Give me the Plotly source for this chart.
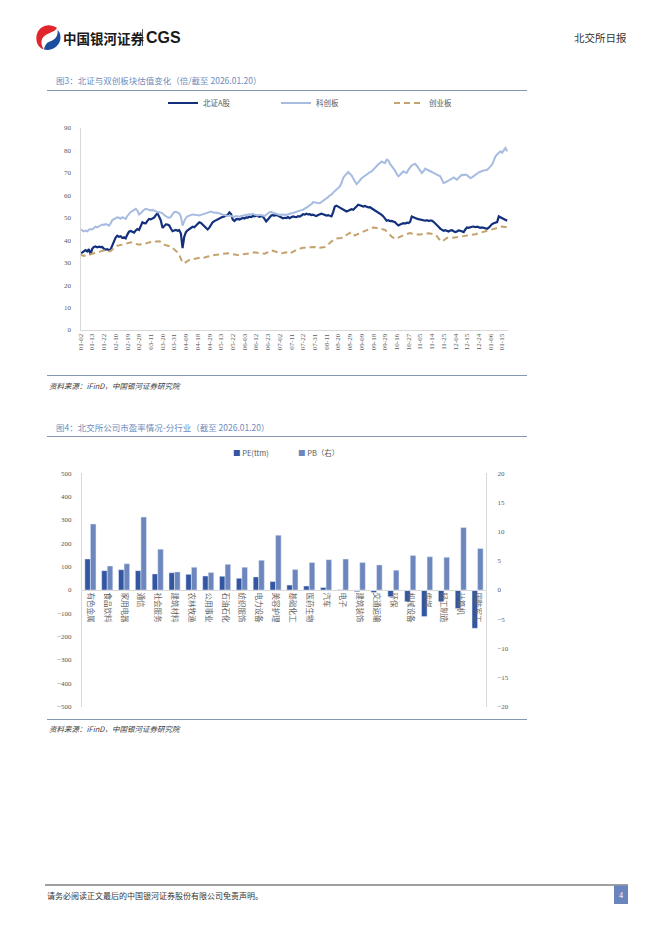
import plotly.graph_objects as go

W, H = 662, 936
OX, OY = 8, 8  # the page body offsets the figure by this many pixels

# ---------------- Data: Figure 3 (valuation, times) ----------------
date_labels = ["01-02", "01-13", "01-22", "02-10", "02-19", "02-28", "03-11", "03-20", "03-31",
               "04-09", "04-18", "04-29", "05-13", "05-22", "06-03", "06-12", "06-23", "07-02",
               "07-11", "07-22", "07-31", "08-11", "08-20", "08-29", "09-09", "09-18", "09-29",
               "10-16", "10-27", "11-05", "11-14", "11-25", "12-04", "12-15", "12-24", "01-06", "01-15"]
label_step = 7  # trading days between tick labels

bz_a = [34.0, 34.5, 35.2, 35.6, 35.0, 36.0, 33.6,
        36.2, 37.0, 37.2, 36.8, 37.1, 36.9, 37.0,
        36.2, 35.8, 36.0, 35.6, 35.9, 37.5, 39.8,
        41.2, 42.0, 41.5, 41.8, 41.0, 41.3, 40.8,
        42.5, 43.8, 44.1, 43.6, 43.4, 44.3, 45.0,
        44.6, 46.5, 48.0, 47.6, 47.5, 48.6, 49.5,
        49.3, 49.8, 50.1, 51.2, 52.0, 50.5, 48.8,
        45.5, 46.3, 47.1, 47.0, 46.6, 45.2, 44.0,
        44.3, 44.6, 44.2, 44.5, 43.0, 36.5, 41.5,
        43.6, 44.4, 45.0, 45.6, 46.0, 45.8, 46.5,
        47.2, 48.0, 47.7, 47.0, 46.2, 45.5, 44.8,
        45.6, 46.8, 48.0, 48.5, 48.9, 49.4, 49.6,
        50.0, 50.4, 50.6, 51.0, 51.4, 52.4, 51.6,
        49.2, 48.6, 49.3, 49.5, 49.2, 49.6, 49.9,
        49.7, 50.2, 50.1, 50.5, 50.3, 50.8, 50.6,
        51.0, 50.7, 50.4, 50.8, 50.5, 49.5, 48.4,
        49.2, 50.3, 51.0, 51.2, 51.0, 51.3, 50.9,
        50.6, 50.2, 49.8, 50.0, 49.9, 50.3, 49.8,
        50.2, 50.6, 50.4, 50.3, 50.7, 50.5, 51.0,
        51.6, 51.4, 51.8, 51.5, 51.6, 51.2, 51.4,
        51.0, 50.8, 51.2, 51.5, 51.8, 51.6, 51.3,
        51.0, 51.2, 51.0, 50.6, 52.5, 55.0, 55.4,
        55.0, 54.6, 54.3, 53.9, 53.2, 52.8, 53.1,
        53.4, 53.8, 53.6, 54.5, 55.3, 55.8, 55.6,
        55.2, 55.0, 55.3, 54.9, 54.6, 54.7, 54.2,
        53.8, 53.3, 52.8, 52.4, 52.0, 51.3, 50.6,
        49.6, 48.7, 48.9, 48.5, 48.6, 48.4, 48.0,
        47.2, 46.6, 47.0, 47.5, 47.6, 47.4, 47.8,
        47.6, 48.2, 50.6, 50.2, 49.8, 49.6, 49.4,
        49.2, 49.0, 48.8, 48.7, 48.9, 48.6, 48.7,
        48.7, 48.2, 47.6, 46.8, 46.0, 45.2, 44.6,
        44.2, 44.5, 44.0, 43.9, 44.3, 44.5, 44.0,
        43.6, 43.9, 44.4, 44.2, 43.8, 43.6, 44.8,
        45.7, 45.5, 45.9, 46.0, 46.1, 45.8, 46.0,
        45.8, 45.5, 45.7, 45.6, 45.3, 45.1, 45.6,
        46.5, 47.2, 47.6, 48.0, 48.1, 50.6, 50.2,
        50.0, 49.4, 49.1, 48.7]

kc_board = [44.8, 44.2, 43.9, 44.3, 44.0, 44.6, 45.0,
            44.8, 45.3, 46.0, 45.7, 46.2, 46.6, 47.0,
            46.8, 47.2, 46.9, 46.5, 47.5, 49.0, 49.4,
            49.8, 50.2, 50.0, 49.6, 50.3, 49.8, 49.5,
            50.8, 52.0, 52.6, 53.0, 53.4, 54.0, 53.2,
            51.5, 52.0, 53.0, 53.6, 54.0, 53.8, 53.6,
            53.3, 53.5, 53.2, 52.8, 52.5, 52.6, 52.2,
            52.0, 51.2, 50.5, 50.2, 50.0, 50.4, 51.6,
            52.5, 52.7, 52.3, 52.0, 50.5, 46.5, 48.5,
            50.0, 50.6, 51.0, 51.3, 51.5, 51.4, 51.2,
            51.0, 51.0, 51.3, 51.6, 51.8, 52.0, 52.3,
            52.5, 52.8, 52.5, 52.2, 52.4, 52.0, 52.0,
            51.6, 51.4, 51.2, 51.0, 50.8, 51.0, 50.7,
            50.6, 50.4, 50.8, 50.5, 50.5, 50.8, 51.0,
            51.2, 51.5, 51.4, 51.6, 51.5, 51.8, 51.4,
            51.2, 51.0, 51.3, 51.0, 51.0, 50.8, 51.4,
            52.0, 52.5, 52.6, 52.3, 52.0, 51.8, 51.5,
            51.3, 51.5, 51.6, 51.4, 51.3, 51.6, 51.8,
            52.0, 52.1, 52.4, 52.8, 53.0, 53.2, 53.4,
            53.6, 54.0, 54.5, 55.0, 55.6, 56.0, 57.0,
            56.8, 56.5, 56.6, 56.5, 57.0, 57.6, 58.0,
            58.4, 59.2, 60.0, 60.3, 61.2, 62.0, 62.5,
            63.2, 64.0, 65.5, 67.7, 68.8, 69.8, 70.4,
            69.6, 68.9, 67.5, 66.0, 65.0, 65.8, 67.0,
            67.6, 68.2, 68.8, 69.2, 69.8, 70.3, 70.7,
            71.5, 72.5, 73.2, 73.8, 74.4, 75.1, 74.6,
            74.4, 75.9, 75.5, 74.0, 73.0, 72.2, 71.0,
            69.5, 68.5, 69.2, 70.0, 70.7, 70.2, 70.0,
            71.5, 72.6, 73.4, 73.8, 74.0, 73.2, 72.0,
            71.0, 69.9, 70.8, 71.9, 71.5, 71.0, 70.7,
            70.4, 70.0, 69.6, 69.2, 69.0, 68.5, 67.0,
            65.5, 65.8, 66.2, 66.5, 66.8, 67.4, 68.0,
            67.6, 67.0, 67.8, 68.5, 69.2, 69.0, 69.3,
            69.0, 68.2, 67.7, 68.0, 68.6, 69.2, 69.8,
            70.2, 70.5, 71.0, 71.1, 71.2, 71.4, 72.0,
            72.8, 73.7, 75.5, 77.4, 78.2, 78.8, 79.6,
            79.0, 80.2, 81.1, 79.6]

cy_board = [34.0, 33.2, 33.0, 33.4, 33.6, 33.8, 33.7,
            34.0, 34.2, 34.5, 34.6, 34.8, 35.0, 35.2,
            35.5, 35.6, 35.3, 35.0, 35.2, 36.0, 36.8,
            37.2, 37.5, 37.6, 37.8, 38.0, 38.2, 38.4,
            38.6, 39.0, 39.1, 38.8, 38.6, 38.5, 38.2,
            38.0, 38.2, 38.0, 38.3, 38.6, 38.9, 39.0,
            39.2, 39.3, 39.1, 39.4, 39.6, 39.5, 39.3,
            38.6, 38.0, 37.8, 37.6, 37.5, 37.2, 36.6,
            36.0, 35.5, 34.6, 33.5, 32.0, 30.0, 29.8,
            30.4, 31.0, 31.2, 31.4, 31.6, 31.8, 32.0,
            32.1, 32.2, 32.3, 32.4, 32.2, 32.5, 32.6,
            32.8, 33.0, 33.2, 33.4, 33.5, 33.6, 33.8,
            33.9, 34.0, 34.1, 34.0, 34.2, 34.0, 33.8,
            33.7, 33.6, 33.5, 33.4, 33.5, 33.6, 33.8,
            33.9, 34.0, 33.8, 34.0, 34.2, 34.4, 34.6,
            34.5, 34.3, 34.2, 34.0, 33.9, 34.0, 34.3,
            34.8, 35.2, 35.5, 35.3, 35.0, 34.8, 34.6,
            34.5, 34.2, 34.3, 34.4, 34.6, 34.2, 34.0,
            34.5, 35.0, 35.4, 35.7, 36.0, 36.3, 36.5,
            36.6, 36.7, 36.8, 36.8, 36.9, 37.0, 37.2,
            37.0, 36.8, 36.5, 36.6, 36.7, 36.8, 37.0,
            37.5, 38.0, 38.7, 39.4, 40.0, 40.6, 40.8,
            40.9, 40.8, 41.0, 41.6, 42.0, 42.4, 42.8,
            43.2, 43.6, 43.0, 42.1, 42.5, 43.0, 43.2,
            43.5, 43.8, 44.0, 44.3, 44.6, 45.0, 45.4,
            45.7, 45.6, 45.5, 45.4, 45.2, 45.0, 44.8,
            44.6, 44.0, 43.2, 42.4, 41.6, 41.0, 40.6,
            40.8, 41.2, 41.7, 41.9, 42.2, 42.5, 42.8,
            43.0, 43.2, 43.0, 42.8, 42.8, 42.6, 42.5,
            42.6, 42.7, 42.9, 43.0, 43.2, 43.1, 43.0,
            42.8, 42.6, 42.5, 41.8, 40.8, 39.8, 39.4,
            40.0, 40.6, 41.0, 41.2, 41.3, 41.2, 41.1,
            41.2, 41.3, 41.4, 41.5, 41.7, 41.8, 41.9,
            42.0, 42.1, 42.3, 42.4, 42.6, 42.7, 42.9,
            43.1, 43.4, 43.6, 43.8, 44.1, 44.4, 44.6,
            44.8, 45.0, 45.2, 45.4, 45.6, 45.8, 46.0,
            46.1, 46.0, 45.9, 45.7]

series_names = ["北证A股", "科创板", "创业板"]

# ---------------- Data: Figure 4 (PE / PB by industry) ----------------
industries = ["有色金属", "食品饮料", "家用电器", "通信", "社会服务", "建筑材料", "农林牧渔", "公用事业",
              "石油石化", "纺织服饰", "电力设备", "美容护理", "基础化工", "医药生物", "汽车", "电子",
              "建筑装饰", "交通运输", "环保", "机械设备", "传媒", "轻工制造", "计算机", "国防军工"]
pe_ttm = [133, 83, 87, 83, 69, 74, 67, 60, 59, 50, 56, 36, 21, 17, 11, 1,
          -7, -11, -29, -50, -114, -50, -79, -164]
pb = [11.3, 4.1, 4.5, 12.5, 7.0, 3.1, 3.9, 3.0, 4.4, 3.9, 5.1, 9.4, 3.5, 4.7, 5.2, 5.3,
      4.7, 4.3, 3.4, 5.9, 5.7, 5.6, 10.7, 7.1]

# ---------------- helpers (page pixel -> paper fraction) ----------------
def fx(px):
    return (px - OX) / W

def fy(py):
    return 1 - (py - OY) / H

SERIF = "Liberation Serif, Noto Sans CJK SC, serif"
CJK = "Noto Sans CJK SC, sans-serif"
TICK = "#595959"
AXIS = "#D9D9D9"
TITLE_C = "#6E8CBD"
RULE_C = "#8496B0"

fig = go.Figure()

# ---------------- Figure 3: lines ----------------
idx = list(range(len(bz_a)))
line_styles = [
    dict(color="#13307C", width=2.2),
    dict(color="#A7BCE0", width=2.0),
    dict(color="#C4A36E", width=2.0, dash="6px,4px"),
]
for name, vals, st in zip(series_names, [bz_a, kc_board, cy_board], line_styles):
    fig.add_trace(go.Scatter(x=idx, y=vals, mode="lines", name=name, line=st,
                             xaxis="x", yaxis="y", legend="legend"))

# ---------------- Figure 4: bars ----------------
PE_C = "#3356A2"
PB_C = "#6D86BE"
fig.add_trace(go.Bar(x=industries, y=pe_ttm, name="PE(ttm)", marker_color=PE_C,
                     xaxis="x2", yaxis="y2", offsetgroup="pe", showlegend=False))
fig.add_trace(go.Bar(x=industries, y=pb, name="PB（右）", marker_color=PB_C,
                     xaxis="x2", yaxis="y4", offsetgroup="pb", showlegend=False))

# invisible trace for page decoration axes (page pixel coordinates)
fig.add_trace(go.Scatter(x=[None], y=[None], xaxis="x3", yaxis="y3", showlegend=False,
                         hoverinfo="skip"))

tick_vals = [i * label_step for i in range(len(date_labels))]

y1_dom = [fy(330), fy(128)]
y2_dom = [fy(706.7), fy(473.3)]

fig.update_layout(
    width=W, height=H,
    margin=dict(l=0, r=0, t=0, b=0, autoexpand=False),
    paper_bgcolor="white", plot_bgcolor="rgba(0,0,0,0)",
    font=dict(family=SERIF, size=7, color=TICK),
    barmode="group", bargap=0.34, bargroupgap=0.0,
    xaxis=dict(domain=[fx(80.5), fx(508)], range=[0, len(bz_a) - 0.5],
               tickmode="array", tickvals=tick_vals, ticktext=date_labels,
               tickangle=-90, tickfont=dict(size=7, color=TICK, family=SERIF),
               showline=True, linecolor=AXIS, linewidth=1, showgrid=False,
               zeroline=False, ticks="", anchor="y", fixedrange=True),
    yaxis=dict(domain=y1_dom, range=[0, 90], dtick=10, showline=True, linecolor=AXIS,
               linewidth=1, showgrid=False, zeroline=False, ticks="",
               tickfont=dict(size=7, color=TICK, family=SERIF), ticklabelstandoff=7,
               anchor="x", fixedrange=True),
    xaxis2=dict(domain=[fx(82), fx(486)], type="category", anchor="free",
                position=(y2_dom[0] + y2_dom[1]) / 2, tickangle=90,
                tickfont=dict(size=7.5, color="#666666", family=CJK),
                showline=True, linecolor=AXIS, linewidth=1, showgrid=False,
                zeroline=False, ticks="", fixedrange=True),
    yaxis2=dict(domain=y2_dom, range=[-500, 500], dtick=100, anchor="x2",
                showline=True, linecolor=AXIS, linewidth=1, showgrid=False,
                zeroline=False, ticks="", tickfont=dict(size=7, color=TICK, family=SERIF),
                ticklabelstandoff=8, fixedrange=True),
    yaxis4=dict(range=[-20, 20], dtick=5, overlaying="y2", side="right", anchor="x2",
                showline=True, linecolor=AXIS, linewidth=1, showgrid=False,
                zeroline=False, ticks="", tickfont=dict(size=7, color=TICK, family=SERIF),
                ticklabelstandoff=9, fixedrange=True),
    xaxis3=dict(domain=[0, 1], range=[OX, W + OX], visible=False, fixedrange=True),
    yaxis3=dict(domain=[0, 1], range=[H + OY, OY], visible=False, fixedrange=True,
                anchor="x3"),
    legend=dict(orientation="h", x=fx(163), y=fy(103), xanchor="left", yanchor="middle",
                font=dict(size=7.5, color=TICK, family=CJK), entrywidth=68,
                entrywidthmode="pixels", bgcolor="rgba(0,0,0,0)", itemwidth=30),
    showlegend=True,
)

shapes = []
annots = []

def rule(x0, x1, y, color=RULE_C, width=1):
    shapes.append(dict(type="line", xref="x3", yref="y3", x0=x0, x1=x1, y0=y, y1=y,
                       line=dict(color=color, width=width), layer="above"))

def text(x, y, s, size, color="#333333", xanchor="left", family=CJK):
    annots.append(dict(xref="x3", yref="y3", x=x, y=y, text=s, showarrow=False,
                       xanchor=xanchor, yanchor="middle", borderpad=0,
                       font=dict(size=size, color=color, family=family)))

# ---------------- Header ----------------
shapes.append(dict(type="path", xref="x3", yref="y3", layer="above",
                   path="M 57 28 C 49 22 38 26 36.5 36 C 35.5 43 39 48 44 49.5 "
                        "C 40.5 45 40.5 38.5 45 35.5 C 49 32.5 54 32.5 57 28 Z",
                   fillcolor="#E0262B", line=dict(width=0)))
shapes.append(dict(type="path", xref="x3", yref="y3", layer="above",
                   path="M 44 49.5 C 52 51.5 60 46 60.5 38 C 60.7 34.5 59.5 31.5 57.5 30 "
                        "C 58.5 35.5 55 40 50 41.5 C 46.5 42.5 44.5 45.5 44 49.5 Z",
                   fillcolor="#1D4E9E", line=dict(width=0)))
text(62, 37.5, "<b>中国银河证券</b>", 13.5, "#1A1A1A", family=CJK)
shapes.append(dict(type="line", xref="x3", yref="y3", x0=142.5, x1=142.5, y0=29, y1=46,
                   line=dict(color="#555555", width=1), layer="above"))
text(144.5, 37.5, "<b>CGS</b>", 16, "#1A1A1A", family="Liberation Sans, Arial, sans-serif")
text(628, 37, "北交所日报", 10.5, "#333333", xanchor="right")

# ---------------- Figure 3 frame ----------------
text(55, 80, "图3：北证与双创板块估值变化（倍/截至 2026.01.20）", 8.5, TITLE_C)
rule(47, 527, 90.5)
rule(47, 527, 375.5)
text(48, 385.5, "<i>资料来源：iFinD，中国银河证券研究院</i>", 7.5, "#404040")

# ---------------- Figure 4 frame ----------------
text(55, 427, "图4：北交所公司市盈率情况-分行业（截至 2026.01.20）", 8.5, TITLE_C)
rule(47, 527, 436.5)
text(232, 452, f"<span style='color:{PE_C}'>■</span> PE(ttm)", 7.5, TICK)
text(297, 452, f"<span style='color:{PB_C}'>■</span> PB（右）", 7.5, TICK)
rule(47, 527, 719.5)
text(48, 728.5, "<i>资料来源：iFinD，中国银河证券研究院</i>", 7.5, "#404040")

# ---------------- Footer ----------------
rule(45, 628, 885, color="#404040", width=1)
text(46, 895, "请务必阅读正文最后的中国银河证券股份有限公司免责声明。", 8, "#333333")
shapes.append(dict(type="rect", xref="x3", yref="y3", x0=614, x1=628, y0=885.5, y1=904,
                   fillcolor="#6A84BD", line=dict(width=0), layer="above"))
text(621, 895, "4", 8, "white", xanchor="center", family=SERIF)

fig.update_layout(shapes=shapes, annotations=annots)

fig.write_html("out.html")
